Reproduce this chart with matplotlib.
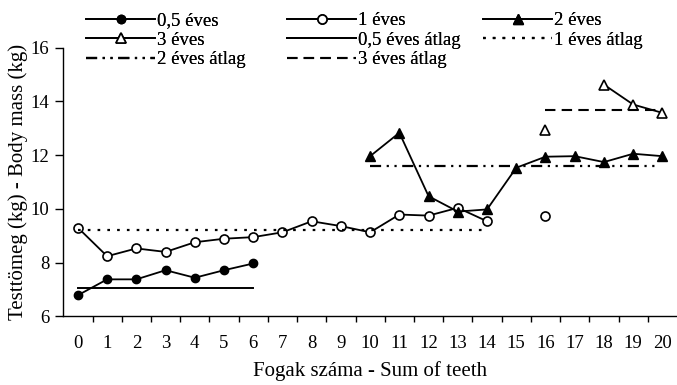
import numpy as np
import matplotlib
matplotlib.use('Agg')
import matplotlib.pyplot as plt

plt.rcParams['font.family'] = ['Liberation Serif', 'DejaVu Serif']

# body mass (kg) by number of teeth
teeth_05 = [0, 1, 2, 3, 4, 5, 6]
mass_05 = [6.79, 7.38, 7.38, 7.72, 7.44, 7.72, 7.97]

teeth_1 = [0, 1, 2, 3, 4, 5, 6, 7, 8, 9, 10, 11, 12, 13, 14, 15, 16]
mass_1 = [9.30, 8.24, 8.53, 8.40, 8.76, 8.89, 8.95, 9.13, 9.54, 9.36,
          9.13, 9.79, 9.75, 10.04, 9.54, np.nan, 9.75]

teeth_2 = [10, 11, 12, 13, 14, 15, 16, 17, 18, 19, 20]
mass_2 = [11.96, 12.83, 10.47, 9.90, 9.98, 11.53, 11.94, 11.96, 11.74, 12.05, 11.96]

teeth_3 = [16, 17, 18, 19, 20]
mass_3 = [12.95, np.nan, 14.62, 13.88, 13.57]

# group means and the teeth range they cover
mean_05, mean_05_span = 7.07, [0, 6]
mean_1, mean_1_span = 9.21, [0, 14]
mean_2, mean_2_span = 11.59, [10, 19.8]
mean_3, mean_3_span = 13.69, [16, 20]

xticks = list(range(21))
yticks = [6, 8, 10, 12, 14, 16]

fig = plt.figure(figsize=(6.77, 3.85), dpi=100)
ax = fig.add_axes([0.0935, 0.178, 0.9065, 0.6986])

lw = 1.3
l05, = ax.plot(teeth_05, mass_05, color='black', lw=lw, marker='o', ms=6,
               mfc='black', mec='black', label='0,5 éves')
l1, = ax.plot(teeth_1, mass_1, color='black', lw=lw, marker='o', ms=6.5,
              mfc='white', mec='black', mew=1.2, label='1 éves')
l2, = ax.plot(teeth_2, mass_2, color='black', lw=lw, marker='^', ms=7.5,
              mfc='black', mec='black', label='2 éves')
l3, = ax.plot(teeth_3, mass_3, color='black', lw=lw, marker='^', ms=7.5,
              mfc='white', mec='black', mew=1.2, label='3 éves')

m05, = ax.plot(mean_05_span, [mean_05] * 2, color='black', lw=1.4,
               label='0,5 éves átlag')
m1, = ax.plot(mean_1_span, [mean_1] * 2, color='black', lw=1.6,
              linestyle=(0, (1.2, 3.2)), label='1 éves átlag')
m2, = ax.plot(mean_2_span, [mean_2] * 2, color='black', lw=1.6,
              linestyle=(0, (5, 2.5, 1, 2.5, 1, 2.5)), label='2 éves átlag')
m3, = ax.plot(mean_3_span, [mean_3] * 2, color='black', lw=1.5,
              linestyle=(0, (5, 3)), label='3 éves átlag')

ax.set_xlim(-0.5, 20.5)
ax.set_ylim(6, 16)
ax.spines['top'].set_visible(False)
ax.spines['right'].set_visible(False)
ax.spines['left'].set_linewidth(1.0)
ax.spines['bottom'].set_linewidth(1.0)

# labels at whole numbers, tick marks between them
ax.set_xticks(xticks)
ax.set_xticks(np.arange(0.5, 20.5, 1.0), minor=True)
ax.tick_params(axis='x', which='major', length=0, pad=13, labelsize=13.5)
ax.tick_params(axis='x', which='minor', length=4, width=1.0, direction='out')
ax.set_yticks(yticks)
ax.tick_params(axis='y', which='major', length=6, width=1.0, pad=4,
               labelsize=13.5)

ax.set_xlabel('Fogak száma - Sum of teeth', fontsize=15, labelpad=7)
ax.set_ylabel('Testtömeg (kg) - Body mass (kg)', fontsize=15, labelpad=2)

# three legend columns placed by hand, as in the source
columns = [
    (86, [l05, l3, m2]),
    (287, [l1, m05, m3]),
    (483, [l2, m1]),
]
for x_px, handles in columns:
    leg = fig.legend(handles, [h.get_label() for h in handles],
                     loc='upper left', bbox_to_anchor=(x_px / 677, 1 - 12 / 385),
                     frameon=False, borderpad=0, borderaxespad=0,
                     handlelength=3.7, handletextpad=0.1, labelspacing=0.13,
                     fontsize=13.5)
    fig.add_artist(leg)

fig.savefig('out.png', dpi=100)
